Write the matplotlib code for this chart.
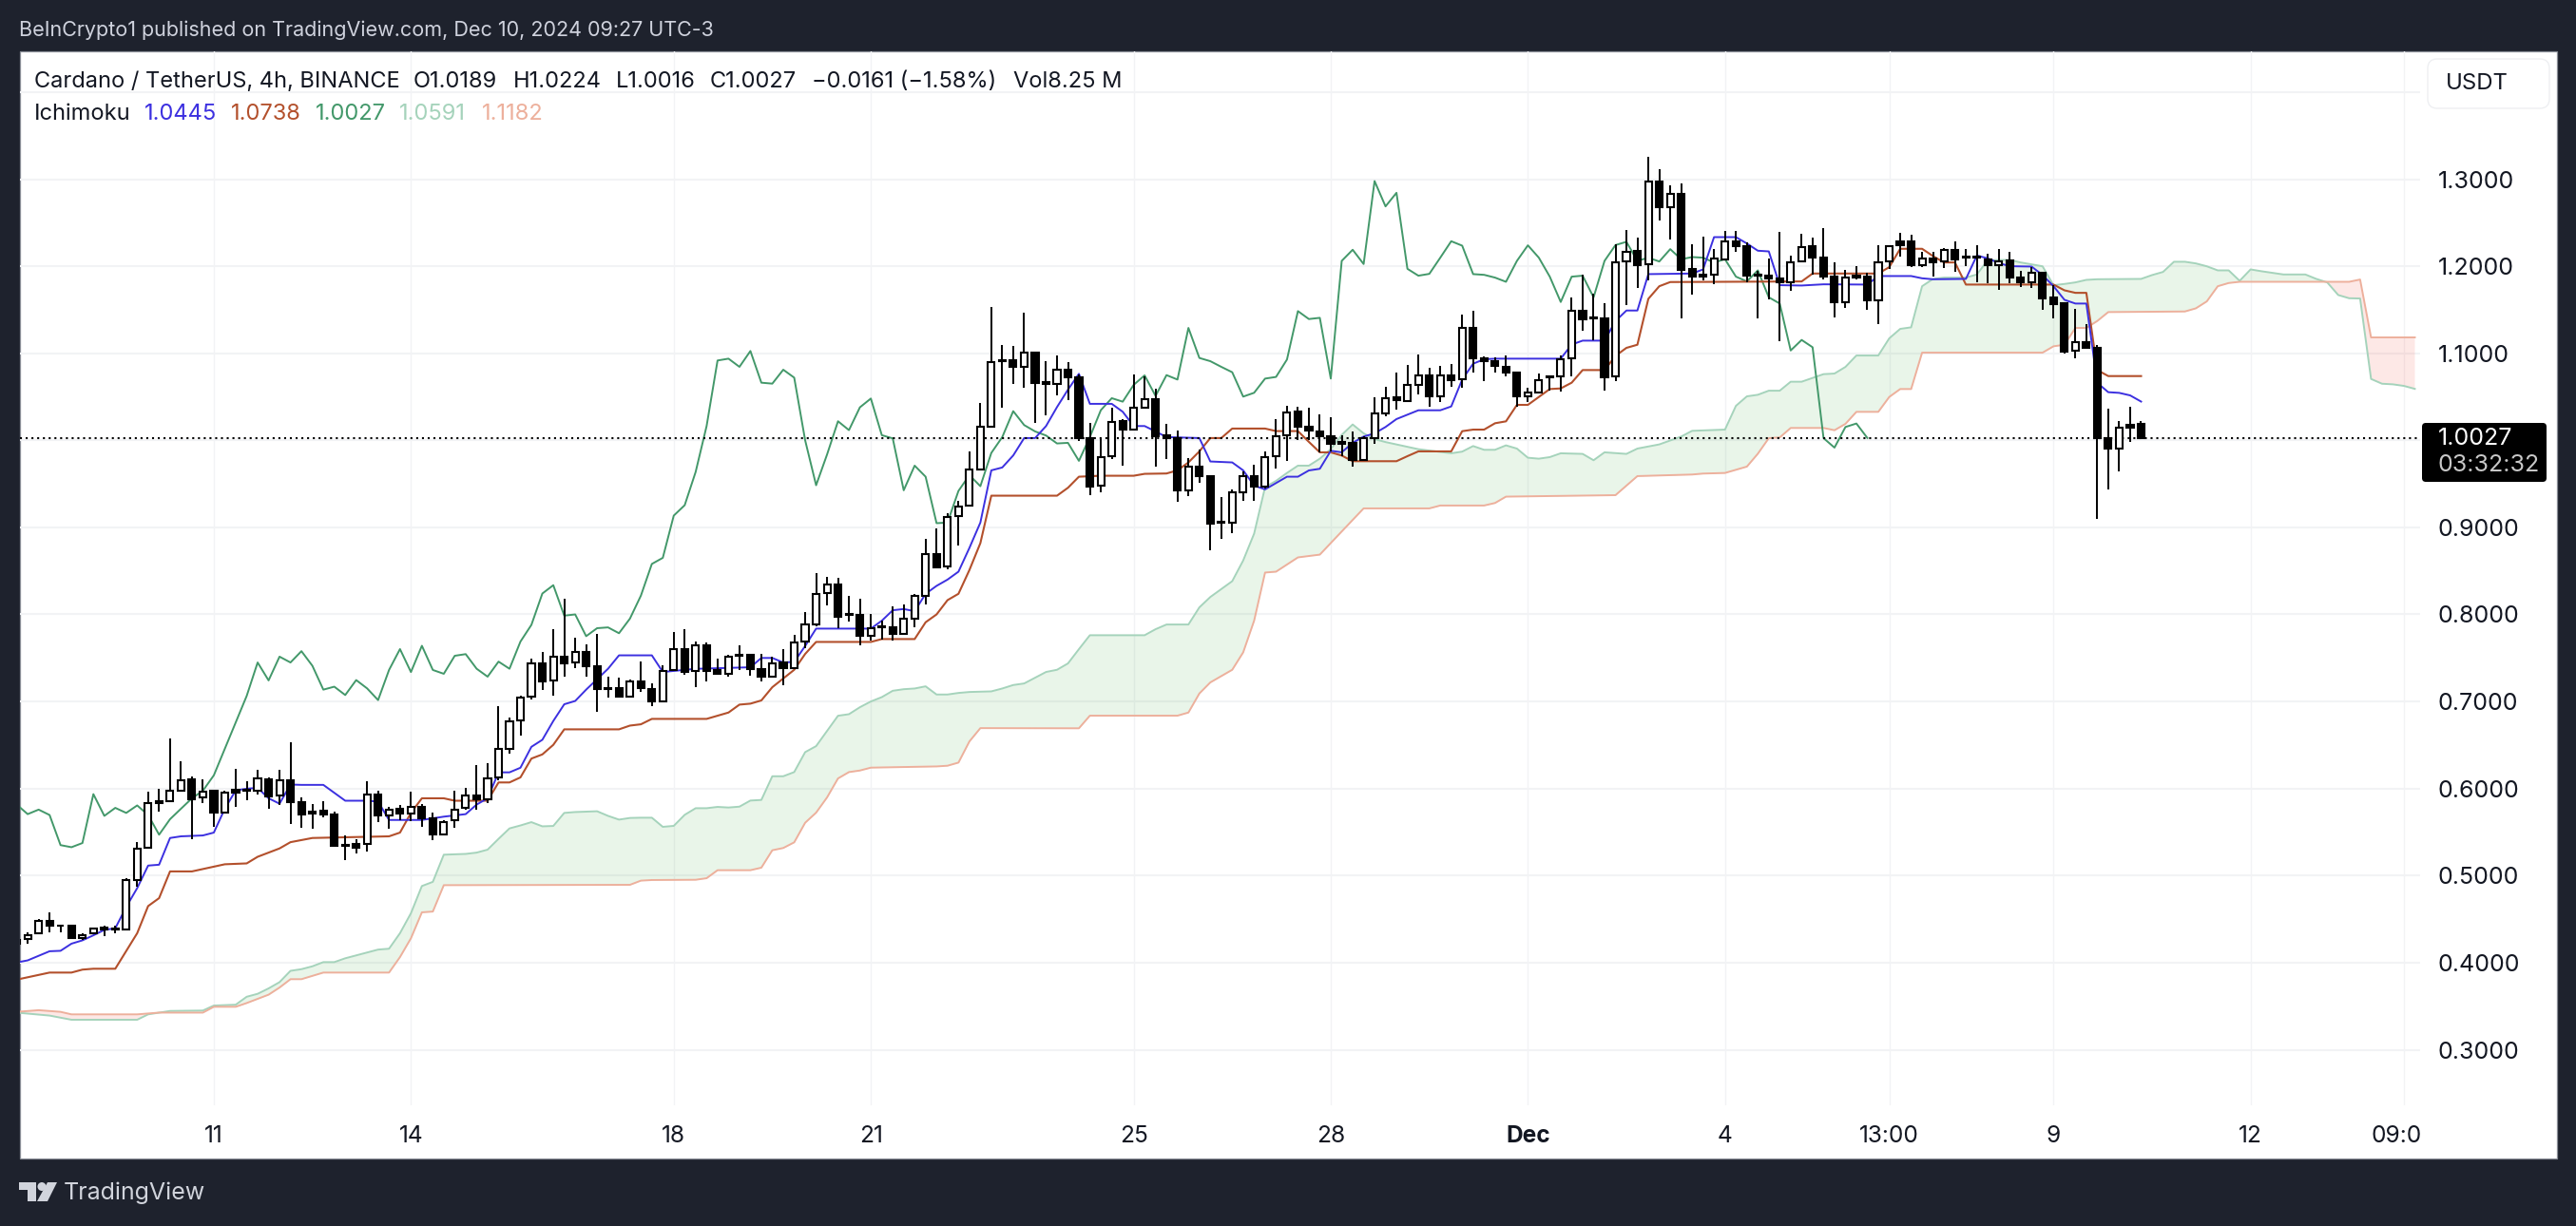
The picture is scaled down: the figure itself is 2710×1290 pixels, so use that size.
import numpy as np
import matplotlib
matplotlib.use("Agg")
import matplotlib.pyplot as plt
from matplotlib.patches import Rectangle, FancyBboxPatch, Polygon, Circle

plt.rcParams['font.family'] = ['Inter', 'DejaVu Sans']

# ---------- candles (bar index, 4h bars) ----------
opens = [.422,.427,.434,.448,.443,.443,.428,.434,.440,.439,
 .438,.495,.532,.586,.586,.598,.611,.590,.597,.572,
 .599,.599,.597,.611,.592,.609,.584,.571,.575,.570,
 .535,.536,.536,.593,.569,.577,.571,.579,.566,.547,
 .564,.578,.592,.588,.613,.646,.678,.706,.744,.724,
 .751,.745,.757,.740,.715,.715,.706,.723,.714,.700,
 .736,.760,.735,.764,.736,.732,.754,.754,.737,.728,
 .745,.738,.769,.788,.825,.834,.800,.799,.775,.786,
 .785,.778,.795,.821,.869,.855,.913,.925,.967,1.016,
 1.092,1.092,1.084,1.101,1.067,1.065,1.081,1.072,1.003,.948,
 .982,1.022,1.012,1.037,1.047,1.006,1.003,.943,.970,.959,
 .906,.905,.940,.959,.947,.982,1.006,1.033,1.016,1.010,
 1.005,.998,.997,.977,1.002,1.031,1.049,1.045,1.064,1.075,
 1.051,1.075,1.070,1.129,1.094,1.091,1.084,1.078,1.051,1.055,
 1.072,1.073,1.094,1.149,1.141,1.140,1.073,1.206,1.218,1.202,
 1.297,1.268,1.283,1.197,1.190,1.190,1.208,1.228,1.223,1.190,
 1.189,1.186,1.182,1.206,1.223,1.210,1.188,1.159,1.189,1.188,
 1.161,1.206,1.228,1.228,1.201,1.209,1.206,1.219,1.211,1.211,
 1.208,1.201,1.207,1.187,1.182,1.193,1.164,1.157,1.103,1.113,
 1.106,1.003,.991,1.018,1.0189]
highs = [.429,.435,.450,.458,.443,.443,.434,.440,.442,.442,
 .497,.539,.596,.600,.658,.631,.614,.611,.598,.597,
 .623,.608,.621,.613,.622,.653,.590,.582,.586,.573,
 .546,.542,.608,.598,.579,.581,.596,.582,.572,.564,
 .598,.601,.627,.629,.695,.682,.707,.749,.757,.783,
 .818,.773,.766,.778,.729,.727,.725,.746,.721,.742,
 .780,.783,.769,.768,.749,.754,.764,.755,.755,.751,
 .760,.776,.803,.847,.843,.842,.821,.818,.801,.793,
 .809,.812,.824,.887,.899,.916,.930,.987,1.043,1.153,
 1.109,1.108,1.147,1.102,1.091,1.097,1.090,1.076,1.020,1.002,
 1.037,1.024,1.076,1.073,1.059,1.019,1.011,.980,.989,.959,
 .935,.944,.964,.972,.987,1.024,1.040,1.038,1.037,1.030,
 1.026,1.006,1.010,1.005,1.049,1.062,1.078,1.087,1.099,1.083,
 1.086,1.088,1.144,1.149,1.096,1.095,1.097,1.078,1.060,1.077,
 1.073,1.098,1.164,1.190,1.168,1.157,1.225,1.242,1.233,1.326,
 1.312,1.293,1.295,1.225,1.234,1.220,1.240,1.241,1.227,1.195,
 1.209,1.239,1.212,1.237,1.233,1.244,1.204,1.196,1.200,1.193,
 1.224,1.224,1.238,1.236,1.216,1.217,1.221,1.228,1.220,1.224,
 1.214,1.220,1.216,1.195,1.199,1.193,1.178,1.157,1.151,1.133,
 1.109,1.036,1.022,1.038,1.0224]
lows = [.419,.422,.434,.435,.435,.427,.426,.433,.431,.434,
 .438,.487,.531,.573,.585,.596,.542,.583,.556,.571,
 .579,.587,.593,.577,.581,.559,.555,.554,.567,.533,
 .518,.525,.528,.562,.554,.564,.563,.556,.541,.546,
 .555,.576,.576,.583,.610,.640,.661,.702,.713,.707,
 .728,.738,.729,.688,.705,.705,.705,.711,.695,.699,
 .735,.731,.717,.723,.732,.728,.736,.730,.723,.727,
 .719,.737,.761,.786,.810,.784,.792,.765,.770,.771,
 .770,.777,.785,.812,.853,.852,.879,.924,.966,1.015,
 1.037,1.065,1.060,1.020,1.029,1.052,1.046,.999,.937,.940,
 .978,.971,1.012,1.036,.970,.978,.929,.936,.951,.874,
 .887,.893,.931,.931,.945,.968,.976,1.000,1.000,.986,
 .987,.982,.970,.976,.996,1.028,1.035,1.044,1.053,1.038,
 1.044,1.061,1.060,1.078,1.068,1.078,1.073,1.038,1.044,1.054,
 1.057,1.056,1.074,1.126,1.115,1.057,1.068,1.155,1.175,1.184,
 1.252,1.231,1.140,1.167,1.184,1.179,1.207,1.216,1.182,1.140,
 1.162,1.114,1.172,1.205,1.190,1.185,1.141,1.152,1.185,1.150,
 1.133,1.197,1.211,1.199,1.199,1.188,1.198,1.194,1.200,1.182,
 1.180,1.173,1.180,1.176,1.175,1.150,1.140,1.100,1.094,1.106,
 .910,.944,.964,.998,1.0016]
closes = [.4265,.432,.448,.442,.442,.428,.432,.439,.438,.438,
 .495,.531,.583,.583,.597,.610,.588,.596,.572,.595,
 .595,.597,.612,.591,.609,.584,.570,.574,.570,.534,
 .534,.532,.593,.569,.576,.571,.579,.566,.547,.562,
 .576,.592,.588,.612,.645,.677,.705,.744,.723,.751,
 .744,.757,.740,.714,.714,.706,.723,.715,.700,.735,
 .760,.734,.764,.735,.732,.751,.752,.737,.728,.744,
 .738,.768,.788,.824,.834,.797,.799,.775,.784,.785,
 .778,.795,.821,.869,.854,.912,.924,.966,1.016,1.090,
 1.091,1.084,1.101,1.066,1.065,1.081,1.072,1.002,.947,.981,
 1.021,1.012,1.037,1.047,1.005,1.002,.942,.970,.959,.904,
 .905,.940,.959,.947,.981,1.005,1.032,1.016,1.011,1.005,
 .996,.996,.977,1.002,1.031,1.048,1.046,1.064,1.075,1.051,
 1.075,1.069,1.129,1.094,1.091,1.086,1.078,1.051,1.055,1.069,
 1.073,1.093,1.149,1.139,1.140,1.072,1.205,1.217,1.201,1.297,
 1.268,1.283,1.196,1.188,1.188,1.209,1.228,1.223,1.189,1.189,
 1.186,1.182,1.205,1.222,1.210,1.188,1.159,1.187,1.187,1.161,
 1.205,1.223,1.224,1.201,1.209,1.205,1.219,1.208,1.210,1.210,
 1.201,1.206,1.187,1.182,1.192,1.163,1.156,1.102,1.113,1.106,
 1.003,.991,1.014,1.015,1.0027]

# ---------- Ichimoku lines: vertices (bar index, price) ----------
tenkan_k = [0,1,3,4,5,6,7,8,9,10,11,12,13,14,15,17,18,19,20,21,22,23,24,25,26,28,29,30,32,33,34,37,39,41,42,43,44,45,46,47,48,49,50,51,52,53,54,55,58,
 59,62,67,68,69,70,71,72,73,78,79,80,81,82,83,84,85,86,87,88,89,90,91,92,93,94,95,96,97,98,100,101,102,103,104,105,108,109,111,112,113,114,116,117,118,119,
 120,121,122,123,124,125,126,128,130,131,132,133,134,135,141,142,143,145,146,147,148,149,153,154,155,157,158,159,160,161,163,165,169,170,173,174,175,178,179,180,181,182,184,185,186,187,188,189,190,191,192,193,194]
tenkan_v = [.4002,.4026,.4131,.4136,.4218,.4256,.4314,.4376,.4395,.464,.4856,.5115,.5125,.5432,.5451,.5461,.5494,.5768,.5979,.5998,.6008,.5888,.5826,.6046,.6042,.6042,.5951,.586,.586,.585,.5639,.5639,.5677,.5706,.5816,.5888,.6186,.6186,.6239,.6479,.656,.6776,.6968,.7006,.7136,.7256,.7376,.753,.753,
 .7339,.7375,.7393,.75,.75,.7448,.7455,.7637,.7837,.7837,.7928,.8048,.8062,.8037,.8237,.8328,.84,.8491,.8764,.9055,.9655,.9688,.9826,1.0026,1.0026,1.0164,1.0382,1.0582,1.0764,1.0419,1.0419,1.0328,1.0164,1.0164,1.0102,1.0037,1.0026,.9757,.9746,.9655,.948,.9436,.9582,.9582,.9654,.9673,
 .988,.9862,.9971,1.0043,1.008,1.0153,1.0244,1.0345,1.0345,1.0389,1.0698,1.088,1.0931,1.0938,1.0938,1.11,1.1145,1.1145,1.137,1.1491,1.1491,1.1909,1.1916,1.1963,1.2334,1.2334,1.2261,1.2178,1.217,1.1782,1.1778,1.1792,1.1789,1.1887,1.1887,1.1861,1.185,1.1854,1.2123,1.209,1.2036,1.2,1.1996,1.1898,1.1771,1.1614,1.1571,1.1571,1.066,1.0553,1.0545,1.0516,1.0445]

kijun_k = [0,3,5,6,7,9,11,12,13,14,16,19,21,22,24,25,27,34,35,36,37,39,40,43,44,45,46,47,48,49,50,55,56,57,58,63,65,66,67,68,69,71,72,73,78,79,82,83,84,85,86,87,88,89,95,96,97,99,102,103,105,106,107,108,109,110,111,114,115,117,118,119,120,121,122,126,127,128,131,132,133,134,135,136,137,138,140,141,142,143,145,146,147,148,149,150,151,163,164,170,171,172,174,175,176,177,178,186,187,188,189,190,191,194]
kijun_v = [.3805,.3886,.3886,.392,.393,.393,.4338,.465,.4741,.5048,.5048,.513,.514,.5216,.5312,.5384,.5432,.5451,.5494,.572,.5888,.5888,.586,.586,.607,.607,.6128,.6344,.6392,.6502,.668,.668,.6723,.6738,.68,.68,.6873,.6964,.6975,.7012,.7164,.7364,.7546,.7684,.7684,.7717,.7717,.791,.8,.8164,.8237,.851,.8819,.9364,.9364,.9455,.9582,.9593,.9593,.9615,.9619,.9655,.9746,.9873,1.0026,1.0026,1.0135,1.0135,1.0106,1.0106,.9982,.9862,.9862,.9825,.976,.976,.9818,.9873,.9873,1.0105,1.0123,1.0123,1.0196,1.0218,1.0407,1.0407,1.0589,1.0596,1.0662,1.0807,1.0807,1.097,1.1062,1.1098,1.1625,1.177,1.1818,1.1825,1.1916,1.1916,1.1989,1.22,1.22,1.2116,1.2043,1.2043,1.1789,1.1789,1.1723,1.1694,1.1694,1.0807,1.0738,1.0738]

chikou_k = [0,1,2,3,4,5,6,7,8,9,10,11,12,13,14,15,16,17,18,21,22,23,24,25,26,27,28,29,30,31,32,33,34,35,36,37,38,39,40,41,42,43,44,45,46,47,48,49,50,51,52,53,54,55,56,57,58,59,
 60,61,62,63,64,65,66,67,68,69,70,71,72,73,74,75,76,77,78,79,80,81,82,83,84,85,86,87,88,89,90,91,92,93,94,95,96,97,98,99,100,101,102,103,104,105,106,107,108,109,110,111,112,113,114,115,116,117,118,119,120,
 121,122,123,124,125,126,127,128,129,130,131,132,133,134,135,136,137,138,139,140,141,142,143,144,145,146,147,148,149,150,151,152,153,154,155,156,157,158,159,160,161,162,163,164,165,166,167,168,169]
chikou_v = [.5816,.5706,.5758,.5696,.535,.5326,.5374,.5936,.5686,.5778,.572,.5806,.5696,.547,.5648,.5768,.5888,.5975,.6152,.7064,.7448,.7242,.7515,.7448,.7578,.741,.7136,.717,.7074,.7246,.715,.7016,.7362,.7602,.7338,.764,.7362,.7318,.7525,.7544,.7376,.7285,.7458,.7376,.7688,.788,.824,.8336,.7986,.8,.775,.7842,.7851,.7784,.7952,.8216,.858,.865,
 .9135,.9255,.9637,1.0164,1.0917,1.0938,1.0844,1.1026,1.0662,1.0651,1.0811,1.072,1.0,.9484,.9837,1.0219,1.0117,1.0379,1.048,1.0059,1.0022,.9426,.9709,.9582,.9048,.9055,.9419,.96,.9473,.9855,1.0037,1.0335,1.0175,1.0102,1.0055,.9964,.9971,.9764,1.0037,1.0346,1.0484,1.0444,1.0637,1.0746,1.051,1.0749,1.0698,1.1291,1.0946,1.0909,1.0844,1.0782,1.0502,1.0546,1.0709,1.0728,1.0928,1.1484,1.1393,1.1407,1.0709,
 1.2061,1.2189,1.2025,1.2978,1.2687,1.2843,1.197,1.1891,1.1912,1.2098,1.2287,1.2236,1.1909,1.1901,1.1869,1.1821,1.2061,1.224,1.2098,1.188,1.1589,1.188,1.1891,1.1643,1.2061,1.2243,1.228,1.2061,1.2098,1.2054,1.2196,1.208,1.2105,1.2098,1.2043,1.208,1.188,1.1825,1.1952,1.1643,1.1571,1.1032,1.1153,1.1069,1.0025,.9916,1.0153,1.0193,1.0027]

span_a_k = [0,3,5,11,12,13,14,17,18,20,21,22,23,24,25,26,27,28,29,30,33,34,35,36,37,38,39,41,42,43,44,45,46,47,48,49,50,51,53,54,55,56,57,58,59,60,61,62,63,64,65,66,67,68,69,70,71,72,73,74,75,76,77,78,79,80,81,82,83,84,85,86,87,89,90,91,92,93,94,95,96,97,98,103,104,105,107,108,109,110,111,112,113,114,115,116,117,118,119,120,121,122,123,124,125,128,131,132,133,134,135,136,137,138,139,140,141,143,144,145,147,148,150,152,153,156,157,158,159,160,161,162,163,164,165,166,167,168,170,171,172,173,174,175,176,178,179,180,182,183,185,186,187,188,189,190,194,195,196,197,198,199,200,201,202,203,204,205,207,209,210,211,212,213,214,215,216,217,218,219]
span_a_v = [.3426,.3392,.3344,.3344,.3406,.3426,.3445,.345,.3507,.3517,.3608,.3642,.3704,.3776,.3906,.3925,.3958,.4006,.4006,.405,.415,.416,.4338,.4568,.488,.4928,.524,.5249,.5264,.5298,.5422,.5542,.5576,.5614,.5566,.557,.572,.573,.5739,.5686,.5643,.5662,.5665,.5665,.556,.5571,.5698,.5774,.5774,.5789,.5782,.5792,.5862,.5869,.6141,.6141,.6189,.6418,.6487,.6661,.6836,.6854,.6934,.7,.705,.7123,.7141,.7149,.7174,.708,.708,.7098,.7109,.7116,.7149,.7189,.7207,.7273,.7339,.7364,.7437,.7601,.7761,.7761,.783,.7884,.7884,.8081,.82,.8291,.8382,.8619,.8928,.9462,.9534,.9625,.9709,.9709,.9789,.9898,1.0062,1.0182,1.008,1.0014,.998,.9898,.9851,.987,.9934,.9891,.9891,.9942,.9905,.98,.9789,.9807,.9851,.9844,.9771,.9862,.9844,.9905,.9953,1.0043,1.0109,1.0123,1.0396,1.0505,1.0523,1.057,1.057,1.0673,1.0673,1.0716,1.076,1.0767,1.0843,1.0974,1.0974,1.1171,1.128,1.1298,1.177,1.1854,1.1869,1.1869,1.1905,1.2069,1.2072,1.2043,1.1999,1.1782,1.1796,1.1814,1.1843,1.185,1.1854,1.1898,1.1934,1.2051,1.2051,1.2032,1.1999,1.1952,1.1952,1.1832,1.1963,1.1942,1.1905,1.1905,1.1854,1.1814,1.1669,1.1632,1.1629,1.0705,1.065,1.0643,1.0625,1.0591]

span_b_k = [0,2,4,5,11,13,17,18,20,21,23,24,25,26,28,34,35,36,37,38,39,56,57,58,62,63,64,67,68,69,70,71,72,73,74,75,76,77,78,84,85,86,87,88,97,98,106,107,108,109,111,112,113,114,115,117,119,121,123,129,130,134,135,136,146,148,153,154,156,158,159,160,161,162,165,166,167,168,170,171,172,173,174,185,186,187,188,189,190,191,198,199,200,201,202,203,213,214,215,219]
span_b_v = [.3435,.3454,.3435,.3406,.3406,.3426,.3426,.3493,.3493,.3536,.3632,.3714,.381,.381,.3886,.3886,.4064,.428,.4578,.4587,.489,.4894,.4942,.4949,.4952,.497,.5062,.5062,.5091,.5291,.5317,.5382,.5607,.5723,.5898,.6116,.6189,.6207,.624,.6254,.6262,.6298,.6541,.6694,.6692,.6837,.6837,.6873,.7092,.7219,.7364,.7564,.7928,.8481,.8491,.8655,.8687,.8953,.9218,.9218,.9251,.9251,.928,.9353,.937,.9589,.9607,.9618,.9625,.9698,.9846,1.0025,1.0033,1.0142,1.0142,1.0116,1.0189,1.0327,1.0327,1.0498,1.0589,1.0589,1.1007,1.1007,1.108,1.1098,1.1291,1.1291,1.1371,1.1473,1.148,1.1516,1.1596,1.177,1.1807,1.1821,1.1821,1.1847,1.1182,1.1182]

last_price = 1.0027
x_ticks = [18,36,60,78,102,120,138,156,171,186,204,218]
x_labels = ['11','14','18','21','25','28','Dec','4','13:00','9','12','09:00']
y_ticks = [.3,.4,.5,.6,.7,.8,.9,1.0,1.1,1.2,1.3,1.4]
y_labels = ['0.3000','0.4000','0.5000','0.6000','0.7000','0.8000','0.9000','','1.1000','1.2000','1.3000','']

# ---------- colours ----------
DARK='#1e222d'; GRID='#f2f3f5'; TXT='#131722'
BLUE='#3c30e0'; BROWN='#b3502c'; GREEN='#43986a'; SPANA='#a5d3bb'; SPANB='#edb09c'

W,H = 2710,1290
fig = plt.figure(figsize=(W/100,H/100),dpi=100,facecolor=DARK)

bg = fig.add_axes([0,0,1,1],zorder=0)
bg.set_xlim(0,W); bg.set_ylim(H,0); bg.axis('off')
bg.add_patch(Rectangle((20.5,54),2669,1165,fc='white',ec='#8a8e97',lw=0.9))

L,R,T,B = 20.5,2546,54,1163
ax = fig.add_axes([L/W,1-B/H,(R-L)/W,(B-T)/H],zorder=1)
ax.patch.set_alpha(0)
pk = lambda px:(px-17.6)/11.52
pp = lambda py:1.3-(py-188.5)/916
ax.set_xlim(pk(L),pk(R)); ax.set_ylim(pp(B),pp(T))
for s in ax.spines.values(): s.set_visible(False)

AXF=17.6
ax.set_axisbelow(True)
ax.yaxis.tick_right()
ax.set_yticks(y_ticks); ax.set_yticklabels(y_labels,fontsize=18,color=TXT)
ax.set_xticks(x_ticks); ax.set_xticklabels(x_labels,fontsize=AXF,color=TXT)
ax.tick_params(axis='y',length=0,pad=13.5)
ax.tick_params(axis='x',length=0,pad=15)
ax.grid(axis='y',color=GRID,lw=1.5)
ax.grid(axis='x',color=GRID,lw=1.0)
for lab,txt in zip(ax.get_xticklabels(),x_labels):
    if txt=='Dec': lab.set_fontweight('bold')
    if txt=='09:00':
        lab.set_clip_on(True)
        lab.set_clip_path(Rectangle((0,0),R,H,transform=None))

# cloud
grid_k = np.union1d(span_a_k,span_b_k)
ga = np.interp(grid_k,span_a_k,span_a_v); gb = np.interp(grid_k,span_b_k,span_b_v)
ax.fill_between(grid_k,ga,gb,where=ga>=gb,interpolate=True,color='#4caf50',alpha=.12,lw=0,zorder=1.5)
ax.fill_between(grid_k,ga,gb,where=ga<=gb,interpolate=True,color='#f44336',alpha=.12,lw=0,zorder=1.5)
ax.plot(span_a_k,span_a_v,color=SPANA,lw=1.4,zorder=2,solid_joinstyle='round')
ax.plot(span_b_k,span_b_v,color=SPANB,lw=1.4,zorder=2,solid_joinstyle='round')
ax.plot(chikou_k,chikou_v,color=GREEN,lw=1.4,zorder=2.2)
ax.plot(kijun_k,kijun_v,color=BROWN,lw=1.5,zorder=2.3)
ax.plot(tenkan_k,tenkan_v,color=BLUE,lw=1.4,zorder=2.4)
ax.axhline(last_price,color='black',lw=1.5,ls=(0,(1,1.9)),zorder=2.5)

# candles
k = np.arange(len(opens))
o,h,l,c = map(np.array,(opens,highs,lows,closes))
ax.vlines(k,l,h,color='black',lw=1.4,zorder=3)
up = c>=o
ax.bar(k[up],(c-o)[up],bottom=o[up],width=.62,facecolor='white',edgecolor='black',lw=1.5,zorder=3.2)
ax.bar(k[~up],(c-o)[~up],bottom=o[~up],width=.62,facecolor='black',edgecolor='black',lw=1.5,zorder=3.2)

# overlay texts
fg = fig.add_axes([0,0,1,1],zorder=2)
fg.set_xlim(0,W); fg.set_ylim(H,0); fg.axis('off'); fg.patch.set_alpha(0)

fg.text(20.5,32,'BeInCrypto1 published on TradingView.com, Dec 10, 2024 09:27 UTC-3',
        color='#cfd2dd',fontsize=15.5,va='center')
LEG=17
for x,s in [(36,'Cardano / TetherUS, 4h, BINANCE'),(434.5,'O1.0189'),(539.5,'H1.0224'),(647.5,'L1.0016'),
            (747,'C1.0027'),(854,'−0.0161 (−1.58%)'),(1065.5,'Vol8.25 M')]:
    fg.text(x,86,s,color=TXT,fontsize=LEG,va='center')
fg.text(36,120,'Ichimoku',color=TXT,fontsize=LEG,va='center')
for x,s,col in [(152,'1.0445',BLUE),(243,'1.0738',BROWN),(332,'1.0027',GREEN),(420,'1.0591',SPANA),(507,'1.1182',SPANB)]:
    fg.text(x,120,s,color=col,fontsize=LEG,va='center')

fg.add_patch(FancyBboxPatch((2560,68),116,40,boxstyle='round,pad=6,rounding_size=10',fc='white',ec='#eeeff2',lw=1))
fg.text(2573,88,'USDT',color=TXT,fontsize=17.2,va='center')

fg.add_patch(FancyBboxPatch((2551,448),125,56,boxstyle='round,pad=3,rounding_size=4',fc='black',ec='none'))
fg.text(2565,462,'1.0027',color='white',fontsize=18,va='center')
fg.text(2565,490,'03:32:32',color='#c8c8c8',fontsize=18,va='center')

# footer logo + name
LOGO='#d1d4dc'
fg.add_patch(Polygon([(20,1244),(38,1244),(38,1264),(29,1264),(29,1252),(20,1252)],fc=LOGO,ec='none'))
fg.add_patch(Circle((44,1248.5),4.5,fc=LOGO,ec='none'))
fg.add_patch(Polygon([(50,1244),(60,1244),(50,1264),(39,1264)],fc=LOGO,ec='none'))
fg.text(67,1255,'TradingView',color=LOGO,fontsize=18,va='center')

fig.savefig('out.png',dpi=100,facecolor=DARK)
